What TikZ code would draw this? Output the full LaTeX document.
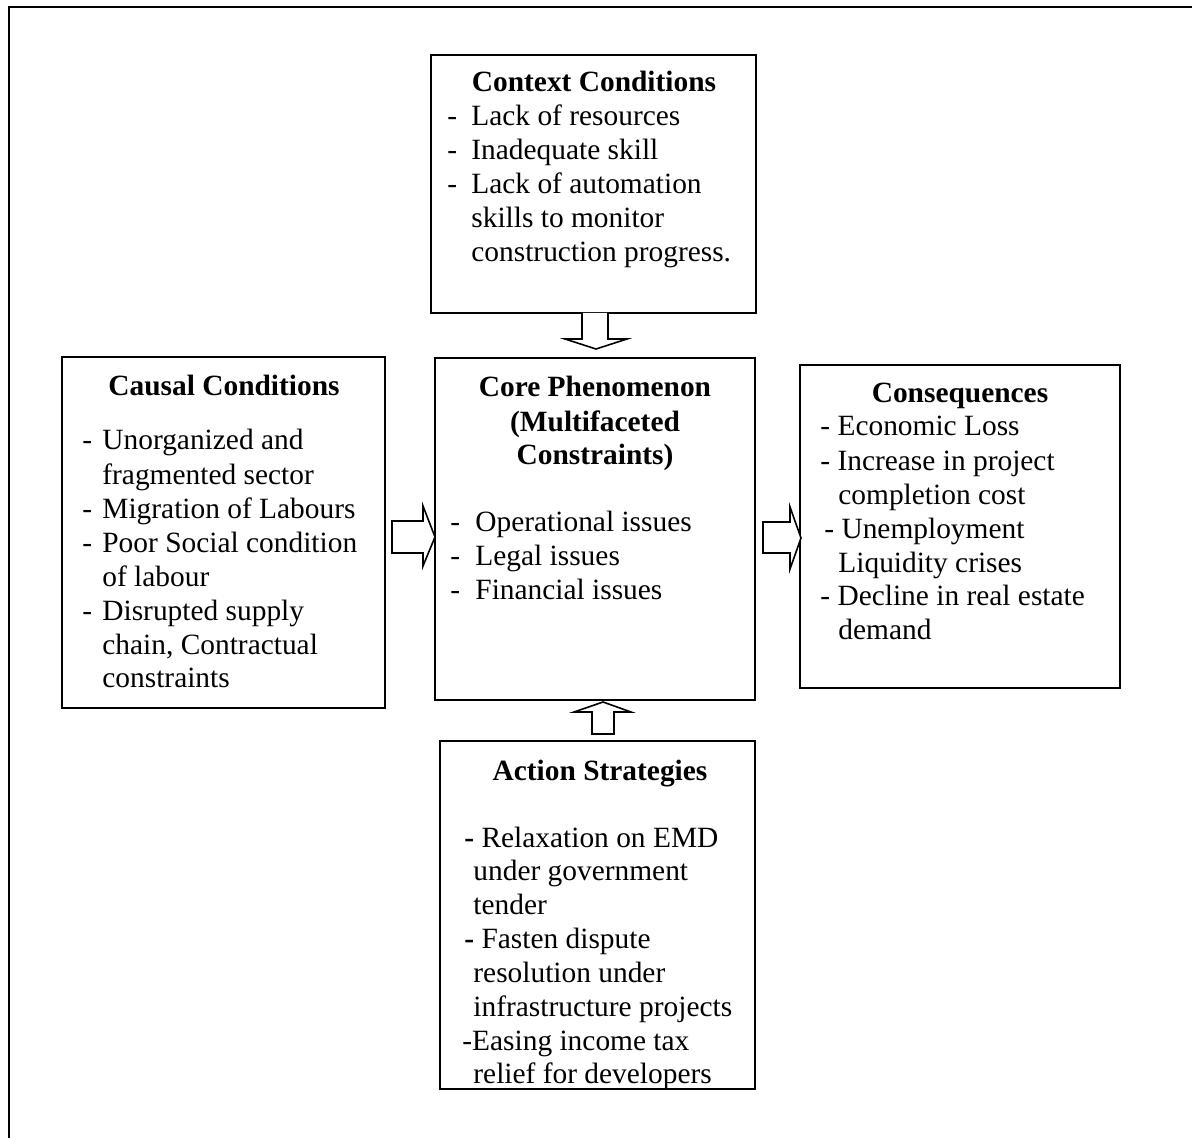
\documentclass[tikz,border=0pt]{standalone}
\usepackage{fontspec}
\setmainfont{Liberation Serif}
\begin{document}
\begin{tikzpicture}[x=0.5pt,y=-0.5pt,
  box/.style={draw, line width=1pt, inner sep=0pt},
  txt/.style={anchor=base west, inner sep=0pt, font=\fontsize{14.7}{17}\selectfont},
  ttl/.style={anchor=base, inner sep=0pt, font=\fontsize{14.7}{17}\selectfont\bfseries},
  barrow/.style={draw, line width=0.8pt, fill=white, line join=miter}]
\useasboundingbox (0,0) rectangle (1192,1138);
\draw[line width=1pt] (8.5,1138) -- (8.5,7.5) -- (1192,7.5);

% boxes
\node[box, minimum width=162.5pt, minimum height=129pt] (context) at (593.5,184) {};
\node[box, minimum width=160pt, minimum height=171pt] (core) at (595,529) {};
\node[box, minimum width=161.5pt, minimum height=175.5pt] (causal) at (223.5,532.5) {};
\node[box, minimum width=160pt, minimum height=161.5pt] (cons) at (960,526.5) {};
\node[box, minimum width=157.5pt, minimum height=174pt] (action) at (597.5,915) {};

% block arrows
\draw[barrow] (582,313) -- (582,339) -- (565,339) -- (596,349) -- (627,339) -- (608,339) -- (608,313);
\draw[barrow] (392,521) -- (423,521) -- (423,506) -- (435,537) -- (423,566) -- (423,553) -- (392,553) -- cycle;
\draw[barrow] (763,522) -- (790,522) -- (790,507) -- (801,538) -- (790,569) -- (790,553) -- (763,553) -- cycle;
\draw[barrow] (592,734) -- (592,712) -- (574,712) -- (603,702) -- (631,712) -- (614,712) -- (614,734) -- cycle;

% context
\node[ttl] (ct0) at (594,92) {Context Conditions};
\node[txt] (cd1) at (447,126) {-};
\node[txt] (ct1) at (471,126) {Lack of resources};
\node[txt] (cd2) at (447,160) {-};
\node[txt] (ct2) at (471,160) {Inadequate skill};
\node[txt] (cd3) at (447,194) {-};
\node[txt] (ct3) at (471,194) {Lack of automation};
\node[txt] (ct4) at (471,228) {skills to monitor};
\node[txt] (ct5) at (471,262) {construction progress.};

% causal
\node[ttl] (ca0) at (224,396) {Causal Conditions};
\node[txt] (cad1) at (82,450) {-};
\node[txt] (ca1) at (102,450) {Unorganized and};
\node[txt] (ca2) at (102,484) {fragmented sector};
\node[txt] (cad3) at (82,518) {-};
\node[txt] (ca3) at (102,518) {Migration of Labours};
\node[txt] (cad4) at (82,552) {-};
\node[txt] (ca4) at (102,552) {Poor Social condition};
\node[txt] (ca5) at (102,586) {of labour};
\node[txt] (cad6) at (82,620) {-};
\node[txt] (ca6) at (102,620) {Disrupted supply};
\node[txt] (ca7) at (102,654) {chain, Contractual};
\node[txt] (ca8) at (102,687) {constraints};

% core
\node[ttl] (co0) at (595,397) {Core Phenomenon};
\node[ttl] (co1) at (595,431) {(Multifaceted};
\node[ttl] (co2) at (595,465) {Constraints)};
\node[txt] (cod1) at (450,531) {-};
\node[txt] (co3) at (475,531) {Operational issues};
\node[txt] (cod2) at (450,565) {-};
\node[txt] (co4) at (475,565) {Legal issues};
\node[txt] (cod3) at (450,599) {-};
\node[txt] (co5) at (475,599) {Financial issues};

% consequences
\node[ttl] (cs0) at (960,402) {Consequences};
\node[txt] (cs1) at (820,436) {- Economic Loss};
\node[txt] (cs2) at (820,470) {- Increase in project};
\node[txt] (cs3) at (838,504) {completion cost};
\node[txt] (cs4) at (824,538) {- Unemployment};
\node[txt] (cs5) at (838,572) {Liquidity crises};
\node[txt] (cs6) at (820,605) {- Decline in real estate};
\node[txt] (cs7) at (838,639) {demand};

% action
\node[ttl] (ac0) at (600,780) {Action Strategies};
\node[txt] (ac1) at (464,847) {{\bfseries -} Relaxation on EMD};
\node[txt] (ac2) at (473,880) {under government};
\node[txt] (ac3) at (473,914) {tender};
\node[txt] (ac4) at (464,948) {{\bfseries -} Fasten dispute};
\node[txt] (ac5) at (473,982) {resolution under};
\node[txt] (ac6) at (473,1016) {infrastructure projects};
\node[txt] (ac7) at (462,1050) {-Easing income tax};
\node[txt] (ac8) at (473,1083) {relief for developers};
\end{tikzpicture}
\end{document}
